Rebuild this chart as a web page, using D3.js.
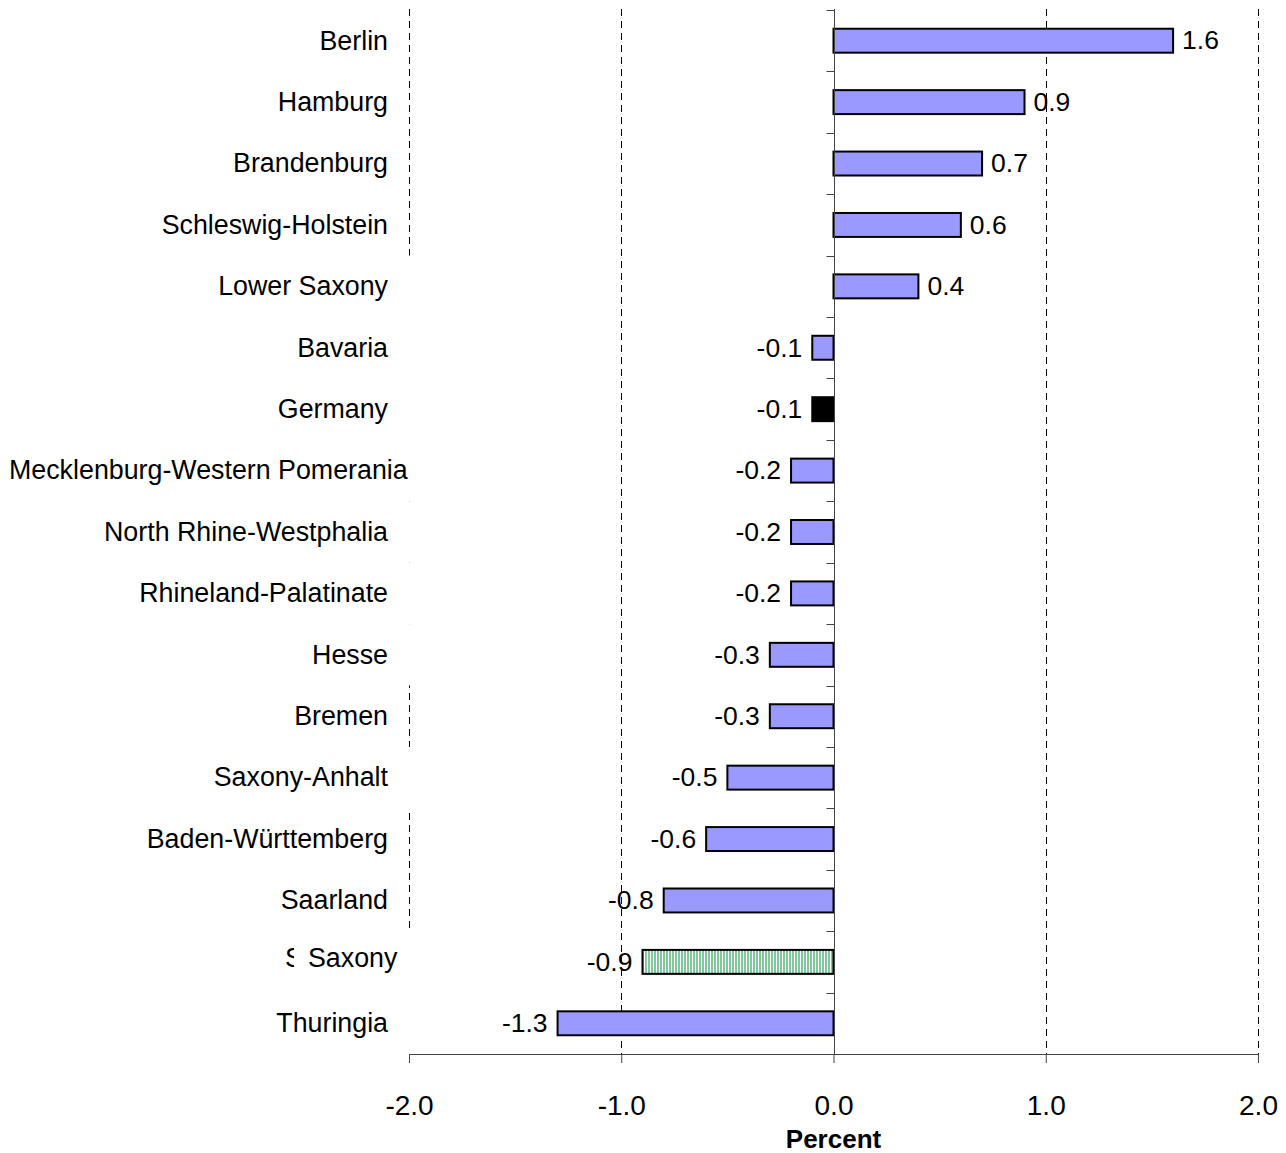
<!DOCTYPE html>
<html lang="en">
<head>
  <meta charset="UTF-8">
  <title>Change by state</title>
  <script src="https://d3js.org/d3.v7.min.js"></script>
  <style>
    body { margin: 0; background: #fff; }
    text { font-family: "Liberation Sans", Arial, sans-serif; fill: #000; }
  </style>
</head>
<body>
  <div id="viz"></div>

  <script>
    // Data
    const states = ["Berlin", "Hamburg", "Brandenburg", "Schleswig-Holstein", "Lower Saxony",
      "Bavaria", "Germany", "Mecklenburg-Western Pomerania", "North Rhine-Westphalia",
      "Rhineland-Palatinate", "Hesse", "Bremen", "Saxony-Anhalt", "Baden-Württemberg",
      "Saarland", "Saxony", "Thuringia"];
    const values = [1.6, 0.9, 0.7, 0.6, 0.4, -0.1, -0.1, -0.2, -0.2, -0.2, -0.3, -0.3,
      -0.5, -0.6, -0.8, -0.9, -1.3];
    const xTicks = [-2, -1, 0, 1, 2];
    const gridTicks = [-2, -1, 1, 2];
    // labels sitting in white text boxes that hide the left gridline
    const boxedLabels = ["Lower Saxony", "Bavaria", "Germany", "Mecklenburg-Western Pomerania",
      "North Rhine-Westphalia", "Rhineland-Palatinate", "Hesse", "Saxony-Anhalt", "Saxony", "Thuringia"];
    const axisTitle = "Percent";

    const W = 1286, H = 1153;
    const pLeft = 409, pRight = 1258, pTop = 10, pBottom = 1054;
    const fmt = v => d3.format('.1f')(v).replace('\u2212', '-');

    const svg = d3.select('#viz').append('svg')
      .attr('width', W).attr('height', H);

    const defs = svg.append('defs');
    const pat = defs.append('pattern')
      .attr('id', 'stripes').attr('patternUnits', 'userSpaceOnUse')
      .attr('width', 3).attr('height', 10);
    pat.append('rect').attr('width', 3).attr('height', 10).attr('fill', '#fff');
    pat.append('rect').attr('width', 2).attr('height', 10).attr('fill', '#7fc99c');

    const x = d3.scaleLinear().domain([-2, 2]).range([pLeft, pRight]);
    const y = d3.scaleBand().domain(states).range([pTop, pBottom])
      .paddingInner(0.61).paddingOuter(0.305);
    const step = y.step();

    // dashed gridlines
    svg.append('g').selectAll('line').data(gridTicks).join('line')
      .attr('x1', d => Math.round(x(d)) + 0.5).attr('x2', d => Math.round(x(d)) + 0.5)
      .attr('y1', pTop - 1).attr('y2', pBottom)
      .attr('stroke', '#000').attr('stroke-width', 1)
      .attr('stroke-dasharray', '7,5');

    // category labels
    const lab = svg.append('g');
    // partly hidden label behind the Saxony text box
    lab.append('text').attr('x', 285).attr('y', y('Saxony') + y.bandwidth() / 2)
      .attr('dy', '0.2em').attr('font-size', 26.8).text('S');
    lab.selectAll('rect').data(states.filter(s => boxedLabels.includes(s))).join('rect')
      .attr('x', d => d === 'Saxony' ? 294 : 0)
      .attr('y', d => y(d) - step * y.paddingInner() / 2)
      .attr('width', d => d === 'Saxony' ? 120 : 414)
      .attr('height', step)
      .attr('fill', '#fff');
    lab.selectAll('text.cat').data(states).join('text')
      .attr('class', 'cat')
      .attr('font-size', 26.8)
      .attr('text-anchor', 'end')
      .attr('y', d => y(d) + y.bandwidth() / 2)
      .attr('dy', d => d === 'Saxony' ? '0.2em' : '0.33em')
      .text(d => d)
      .attr('x', function (d) {
        const w = this.getComputedTextLength();
        return d === 'Saxony' ? 308 + w : Math.max(388, 9 + w);
      });

    // bars
    const rows = states.map((s, i) => ({ s, v: values[i] }));
    svg.append('g').selectAll('rect').data(rows).join('rect')
      .attr('x', d => x(Math.min(0, d.v)))
      .attr('y', d => y(d.s))
      .attr('width', d => Math.abs(x(d.v) - x(0)))
      .attr('height', y.bandwidth())
      .attr('fill', d => d.s === 'Germany' ? '#000' : d.s === 'Saxony' ? 'url(#stripes)' : '#9999ff')
      .attr('stroke', '#000').attr('stroke-width', 2);

    // value labels
    svg.append('g').selectAll('text').data(rows).join('text')
      .attr('font-size', 26.5)
      .attr('x', d => d.v >= 0 ? x(d.v) + 9 : x(d.v) - 10)
      .attr('text-anchor', d => d.v >= 0 ? 'start' : 'end')
      .attr('y', d => y(d.s) + y.bandwidth() / 2)
      .attr('dy', '0.33em')
      .text(d => fmt(d.v));

    // zero axis with ticks at category boundaries
    const zx = Math.round(x(0)) + 0.5;
    const za = svg.append('g').attr('stroke', '#444').attr('stroke-width', 1);
    za.append('line').attr('x1', zx).attr('x2', zx).attr('y1', pTop - 1).attr('y2', pBottom);
    za.selectAll('line.t').data(d3.range(states.length + 1)).join('line')
      .attr('class', 't')
      .attr('x1', zx - 8).attr('x2', zx)
      .attr('y1', d => Math.round(pTop + d * step) + 0.5)
      .attr('y2', d => Math.round(pTop + d * step) + 0.5);

    // x axis
    const xa = svg.append('g').attr('transform', `translate(0,${pBottom})`)
      .call(d3.axisBottom(x).tickValues(xTicks).tickFormat(fmt).tickSizeInner(9).tickSizeOuter(0).tickPadding(32));
    xa.select('.domain').attr('stroke', '#444');
    xa.selectAll('.tick line').attr('stroke', '#444');
    xa.selectAll('.tick text').attr('font-size', 28).attr('font-family', '"Liberation Sans", Arial, sans-serif').attr('fill', '#000');

    svg.append('text')
      .attr('x', x(0)).attr('y', 1148)
      .attr('text-anchor', 'middle')
      .attr('font-size', 26).attr('font-weight', 'bold')
      .text(axisTitle);
  </script>
</body>
</html>
